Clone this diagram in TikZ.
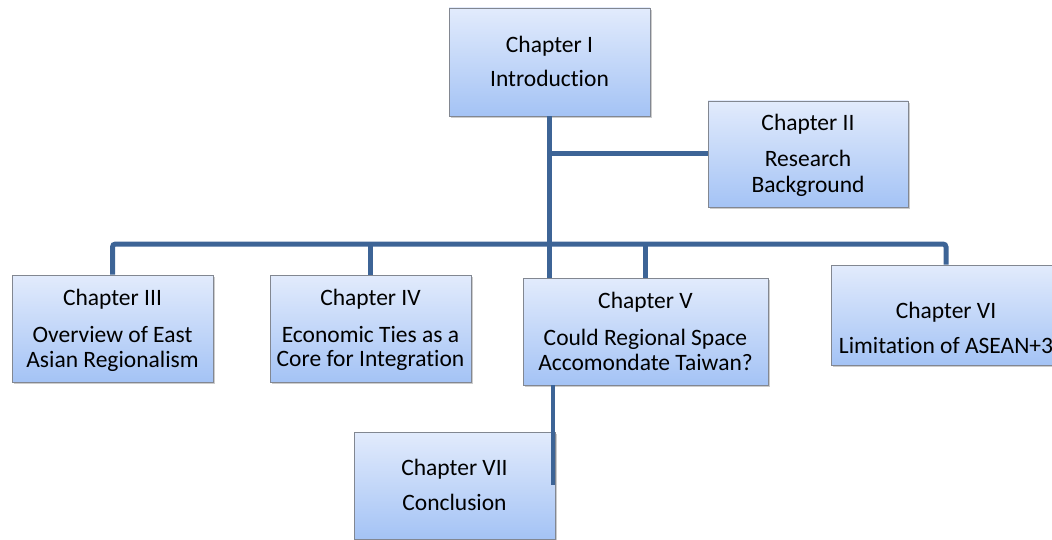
\documentclass[tikz,border=0pt]{standalone}
\usepackage{fontspec}
\setmainfont[RawFeature={-liga;-clig;-calt;-dlig}]{Carlito}
\usetikzlibrary{shadows}
\definecolor{conn}{RGB}{61,100,150}
\definecolor{boxtop}{RGB}{226,235,252}
\definecolor{boxbot}{RGB}{164,195,245}
\definecolor{boxline}{RGB}{130,135,145}
\begin{document}
\begin{tikzpicture}[x=1pt,y=-1pt,
  chbox/.style={draw=boxline, line width=0.8pt, top color=boxtop, bottom color=boxbot,
    drop shadow={shadow xshift=1.5pt, shadow yshift=-2pt, opacity=0.4}, inner sep=0pt},
  txt/.style={anchor=base, inner sep=0pt, font=\fontsize{23.5}{26}\selectfont},
  link/.style={draw=conn, line width=5pt}]
\useasboundingbox (0,0) rectangle (1052,540);
\clip (0,0) rectangle (1052,540);
% boxes
\node[chbox, minimum width=201pt, minimum height=108pt] (c1) at (549.5,62) {};
\node[chbox, minimum width=200pt, minimum height=106pt] (c2) at (808,154) {};
\node[chbox, minimum width=201pt, minimum height=107pt] (c3) at (112.5,328.5) {};
\node[chbox, minimum width=201pt, minimum height=107pt] (c4) at (370.5,328.5) {};
\node[chbox, minimum width=245pt, minimum height=107pt] (c5) at (645.5,331.5) {};
\node[chbox, minimum width=230pt, minimum height=100pt] (c6) at (946,315) {};
\node[chbox, minimum width=201pt, minimum height=107pt] (c7) at (454.5,485.5) {};
% connectors
\coordinate (bus) at (550,244);
\coordinate (v7) at (553,485);
\draw[link] (c1.south) -- (c1.south |- c5.north);
\draw[link] (c1.south |- c2.west) -- (c2.west);
\draw[link, rounded corners=3pt] (c3.north) -- (c3.north |- bus) -- (c6.north |- bus) -- (c6.north);
\draw[link] (c4.north |- bus) -- (c4.north);
\draw[link] (c5.north |- bus) -- (c5.north);
\draw[link, line width=4pt] (c5.south -| v7) -- (v7);
% texts
\node[txt] (t1a) at (549.5,53) {Chapter I};
\node[txt] (t1b) at (549.5,87) {Introduction};
\node[txt] (t2a) at (808,131) {Chapter II};
\node[txt] (t2b) at (808,167) {Research};
\node[txt] (t2c) at (808,193) {Background};
\node[txt] (t3a) at (112.5,305) {Chapter III};
\node[txt] (t3b) at (112.5,342) {Overview of East};
\node[txt] (t3c) at (112.5,367) {Asian Regionalism};
\node[txt] (t4a) at (370.5,305) {Chapter IV};
\node[txt] (t4b) at (370.5,342) {Economic Ties as a};
\node[txt] (t4c) at (370.5,366) {Core for Integration};
\node[txt] (t5a) at (645.5,308) {Chapter V};
\node[txt] (t5b) at (645.5,345) {Could Regional Space};
\node[txt] (t5c) at (645.5,370) {Accomondate Taiwan?};
\node[txt] (t6a) at (946,318) {Chapter VI};
\node[txt] (t6b) at (946,353) {Limitation of ASEAN+3};
\node[txt] (t7a) at (454.5,475) {Chapter VII};
\node[txt] (t7b) at (454.5,510) {Conclusion};
\end{tikzpicture}
\end{document}
